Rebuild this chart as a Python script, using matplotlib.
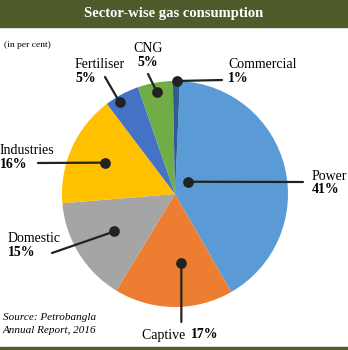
import numpy as np
import matplotlib
matplotlib.use("Agg")
import matplotlib.pyplot as plt
from matplotlib.patches import Rectangle

# data
sectors = ["Power", "Captive", "Domestic", "Industries", "Fertiliser", "CNG", "Commercial"]
shares = [41, 17, 15, 16, 5, 5, 1]
colors = ["#5b9bd5", "#ed7d31", "#a5a5a5", "#ffc000", "#4472c4", "#70ad47", "#2e5c96"]

W, H = 348, 350
GREEN = "#4f5b2a"
INK = "#222222"

plt.rcParams["font.family"] = ["Liberation Serif", "DejaVu Serif"]


def px(x, y):
    # image pixel (top-left origin) -> figure fraction
    return (x / W, 1 - y / H)


fig = plt.figure(figsize=(W / 100, H / 100), dpi=100)

# header bar and bottom rule
fig.patches.append(Rectangle((0, 1 - 27 / H), 1, 27 / H, transform=fig.transFigure,
                             color=GREEN, zorder=0))
fig.patches.append(Rectangle((0, 0), 1, 3 / H, transform=fig.transFigure,
                             color=GREEN, zorder=0))
fig.text(0.5, 1 - 14 / H, "Sector-wise gas consumption", color="white",
         fontsize=10.5, fontweight="bold", ha="center", va="center")
fig.text(*px(4, 45), "(in per cent)", fontsize=6.8, ha="left", va="center")

cx, cy, r = 175, 194, 113
ax = fig.add_axes([(cx - r) / W, (H - cy - r) / H, 2 * r / W, 2 * r / H])
start = 87.5
wedges, _ = ax.pie(shares, colors=colors, startangle=start, counterclock=False,
                   radius=1, wedgeprops=dict(linewidth=0))
ax.set_xlim(-1, 1)
ax.set_ylim(-1, 1)
ax.set_aspect("equal")
ax.axis("off")

# label layout: name -> (dot radius, angle offset, line start px, text px, align)
layout = {
    "Power": (0.16, 29, (303, 182), (312, 183), "left"),
    "Captive": (0.61, 6, None, None, None),
    "Domestic": (0.63, 0, (52, 253), (8, 246), "left"),
    "Industries": (0.68, 0, (38, 163), (0, 157), "left"),
    "Fertiliser": (0.95, 3, (105, 77), (75, 71), "left"),
    "CNG": (0.92, 0, (148, 74), (148, 55), "center"),
    "Commercial": (1.0, 0, (222, 80), (228, 72), "left"),
}

cum = np.cumsum([0] + shares)
for i, (name, val) in enumerate(zip(sectors, shares)):
    rad, off, start_px, text_px, ha = layout[name]
    mid = np.deg2rad(start - (cum[i] + val / 2) * 3.6 + off)
    dx, dy = rad * np.cos(mid), rad * np.sin(mid)
    if name == "Commercial":
        dx, dy = 0.02, 1.0
    if name == "Captive":
        # vertical leader straight down to the label
        start_px = (cx + dx * r, 322)
    ax.annotate("", xy=(dx, dy), xytext=px(*start_px), textcoords="figure fraction",
                arrowprops=dict(arrowstyle="-", lw=1.6, color=INK, shrinkA=0, shrinkB=0),
                annotation_clip=False)
    ax.scatter([dx], [dy], s=45, color=INK, zorder=5, clip_on=False)
    if name == "Captive":
        fig.text(*px(189, 335), "Captive ", fontsize=10, ha="right", va="center")
        fig.text(*px(191, 335), f"{val}%", fontsize=10, fontweight="bold",
                 ha="left", va="center")
    else:
        tx, ty = text_px
        fig.text(*px(tx, ty - 7), name, fontsize=10, ha=ha, va="center")
        fig.text(*px(tx, ty + 7), f"{val}%", fontsize=10, fontweight="bold",
                 ha=ha, va="center")

fig.text(*px(3, 324), "Source: Petrobangla\nAnnual Report, 2016", fontsize=8,
         style="italic", ha="left", va="center", linespacing=1.5)

fig.savefig("out.png", dpi=100)
